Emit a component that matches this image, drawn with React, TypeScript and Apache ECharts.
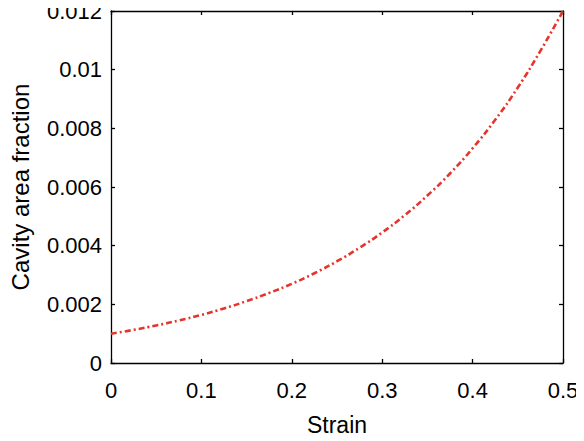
import React, { useEffect, useRef } from "react";
import * as echarts from "echarts";

// Strain values and the matching cavity area fraction
const strain = [
  0, 0.025, 0.05, 0.075, 0.1, 0.125, 0.15, 0.175, 0.2, 0.225, 0.25, 0.275,
  0.3, 0.325, 0.35, 0.375, 0.4, 0.425, 0.45, 0.475, 0.5,
];
const cavityFraction = [
  0.001, 0.00113, 0.00128, 0.00145, 0.00164, 0.00186, 0.00211, 0.00239,
  0.0027, 0.00306, 0.00347, 0.00393, 0.00445, 0.00504, 0.00571, 0.00646,
  0.00732, 0.00829, 0.00939, 0.01064, 0.012,
];

const xTitle = "Strain";
const yTitle = "Cavity area fraction";

const FONT = "Liberation Sans, Arial, Helvetica, sans-serif";

export default function App() {
  const ref = useRef<HTMLDivElement>(null);

  useEffect(() => {
    if (!ref.current) return;
    const chart = echarts.init(ref.current, undefined, { renderer: "svg" });

    const lineStyle = { color: "#000", width: 1.3 };
    const hidden = { show: false };

    chart.setOption({
      animation: false,
      backgroundColor: "#fff",
      grid: { left: 111, right: 21, top: 11, bottom: 76, containLabel: false },
      xAxis: [
        {
          type: "value",
          min: 0,
          max: 0.5,
          interval: 0.1,
          position: "bottom",
          name: xTitle,
          nameLocation: "middle",
          nameGap: 50,
          nameTextStyle: { fontFamily: FONT, fontSize: 23, color: "#000" },
          axisLine: { show: true, onZero: false, lineStyle },
          axisTick: { show: true, inside: true, length: 4, lineStyle },
          axisLabel: {
            fontFamily: FONT,
            fontSize: 22,
            color: "#000",
            margin: 16,
            formatter: (v: number) => String(parseFloat(v.toFixed(3))),
          },
          splitLine: hidden,
        },
        {
          type: "value",
          min: 0,
          max: 0.5,
          interval: 0.1,
          position: "top",
          axisLine: { show: true, onZero: false, lineStyle },
          axisTick: { show: true, inside: true, length: 4, lineStyle },
          axisLabel: hidden,
          splitLine: hidden,
        },
      ],
      yAxis: [
        {
          type: "value",
          min: 0,
          max: 0.012,
          interval: 0.002,
          position: "left",
          name: yTitle,
          nameLocation: "middle",
          nameGap: 79,
          nameTextStyle: { fontFamily: FONT, fontSize: 24, color: "#000" },
          axisLine: { show: true, onZero: false, lineStyle },
          axisTick: { show: true, inside: true, length: 4, lineStyle },
          axisLabel: {
            fontFamily: FONT,
            fontSize: 22,
            color: "#000",
            margin: 9,
            formatter: (v: number) => String(parseFloat(v.toFixed(4))),
          },
          splitLine: hidden,
        },
        {
          type: "value",
          min: 0,
          max: 0.012,
          interval: 0.002,
          position: "right",
          axisLine: { show: true, onZero: false, lineStyle },
          axisTick: { show: true, inside: true, length: 4, lineStyle },
          axisLabel: hidden,
          splitLine: hidden,
        },
      ],
      series: [
        {
          type: "line",
          xAxisIndex: 0,
          yAxisIndex: 0,
          data: strain.map((s, i) => [s, cavityFraction[i]]),
          smooth: true,
          showSymbol: false,
          lineStyle: {
            color: "#e5342b",
            width: 2.6,
            type: [6, 3, 2, 3],
          },
        },
      ],
    });

    return () => chart.dispose();
  }, []);

  return <div ref={ref} style={{ width: 584, height: 441, margin: -8 }} />;
}
